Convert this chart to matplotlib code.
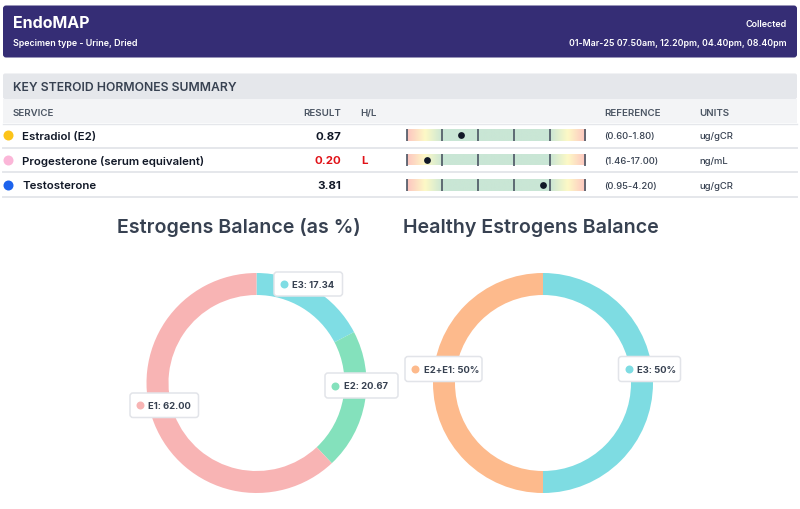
import numpy as np
import matplotlib
matplotlib.use("Agg")
import matplotlib.pyplot as plt
from matplotlib.colors import LinearSegmentedColormap
from matplotlib.patches import FancyBboxPatch, Rectangle

plt.rcParams["font.family"] = ["Inter", "DejaVu Sans"]

# ===================== DATA =====================
SERVICES = ["Estradiol (E2)", "Progesterone (serum equivalent)", "Testosterone"]
RESULTS = ["0.87", "0.20", "3.81"]
FLAGS = ["", "L", ""]
REFERENCES = ["(0.60-1.80)", "(1.46-17.00)", "(0.95-4.20)"]
UNITS = ["ug/gCR", "ng/mL", "ug/gCR"]
SERVICE_COLORS = ["#fcc419", "#fbb6d8", "#1d63ed"]
# dot position along the gauge, in gauge segments (0-5)
GAUGE_POS = [1.53, 0.56, 3.82]
GAUGE_TICKS = [0, 1, 2, 3, 4, 5]

BALANCE_LABELS = ["E3", "E2", "E1"]
BALANCE_VALUES = [17.34, 20.67, 62.00]
BALANCE_COLORS = ["#7fdde4", "#84e1bc", "#f8b4b4"]

HEALTHY_LABELS = ["E3", "E2+E1"]
HEALTHY_VALUES = [50, 50]
HEALTHY_COLORS = ["#7edce2", "#fdba8c"]

W, H = 800, 510
DARK = "#111827"
GREY = "#374151"
RED = "#e11218"


def px(size):
    return size * 0.72


def sub_axes(fig, x0, y0, x1, y1, zorder=1):
    return fig.add_axes([x0 / W, 1 - y1 / H, (x1 - x0) / W, (y1 - y0) / H], zorder=zorder)


def rounded(ax, x0, y0, x1, y1, color, edge="none", lw=0, rad=3, zorder=1):
    ax.add_patch(FancyBboxPatch((x0 + rad, y0 + rad), x1 - x0 - 2 * rad, y1 - y0 - 2 * rad,
                                boxstyle=f"round,pad={rad},rounding_size={rad}",
                                fc=color, ec=edge, lw=lw, zorder=zorder))


def draw_gauge(fig, y, pos):
    ax = sub_axes(fig, 406, y - 6, 586, y + 6, zorder=1)
    cmap = LinearSegmentedColormap.from_list("range", [
        (0.0, "#fdc5c0"), (0.10, "#fdf9c6"), (0.20, "#c9e6d5"),
        (0.80, "#c9e6d5"), (0.90, "#fdf9c6"), (1.0, "#fdc5c0")])
    ax.imshow(np.linspace(0, 1, 256)[None, :], cmap=cmap, aspect="auto",
              extent=[0, 5, 0, 1], interpolation="bilinear")
    ax.vlines(GAUGE_TICKS, 0, 1, color="#4b5563", lw=1.2)
    ax.scatter([pos], [0.5], s=24, color=DARK, zorder=3, clip_on=False, linewidths=0)
    ax.set_xlim(-0.02, 5.02)
    ax.set_ylim(0, 1)
    ax.axis("off")


def draw_donut(fig, cx, values, colors):
    cy, radius = 384, 110
    ax = sub_axes(fig, cx - radius, cy - radius, cx + radius, cy + radius, zorder=1)
    ax.pie(values, colors=colors, startangle=90, counterclock=False, radius=1,
           wedgeprops={"width": 0.2, "edgecolor": "none"})
    ax.set_xlim(-1, 1)
    ax.set_ylim(-1, 1)
    ax.axis("off")


def tooltip(ax, x0, y0, x1, y1, color, text):
    rounded(ax, x0, y0, x1, y1, "white", edge="#e2e4e9", lw=1.1, rad=3, zorder=5)
    ym = (y0 + y1) / 2
    ax.scatter([x0 + 10], [ym], s=33, color=color, zorder=6, linewidths=0)
    ax.text(x0 + 18.5, ym + 0.5, text, fontsize=px(9.4), color=GREY, fontweight=700,
            va="center", ha="left", zorder=6)


def main():
    fig = plt.figure(figsize=(W / 100, H / 100), dpi=100, facecolor="white")

    bg = sub_axes(fig, 0, 0, W, H, zorder=0)
    bg.set_xlim(0, W)
    bg.set_ylim(H, 0)
    bg.axis("off")

    top = sub_axes(fig, 0, 0, W, H, zorder=2)
    top.set_xlim(0, W)
    top.set_ylim(H, 0)
    top.axis("off")
    top.patch.set_alpha(0)

    # header banner
    rounded(bg, 3, 6.5, 797, 58.5, "#352d75", rad=3)
    bg.text(13, 23.5, "EndoMAP", color="white", fontsize=px(16), fontweight=700, va="center")
    bg.text(13, 43, "Specimen type - Urine, Dried", color="white", fontsize=px(8.9),
            fontweight=600, va="center")
    bg.text(787, 24.5, "Collected", color="white", fontsize=px(9), fontweight=600,
            va="center", ha="right")
    bg.text(787, 43, "01-Mar-25 07.50am, 12.20pm, 04.40pm, 08.40pm", color="white",
            fontsize=px(8.75), fontweight=600, va="center", ha="right")

    # table heading
    rounded(bg, 3, 74.5, 797, 100, "#e5e7eb", rad=2)
    bg.text(13, 88, "KEY STEROID HORMONES SUMMARY", color=GREY, fontsize=px(12.2),
            fontweight=600, va="center")
    bg.add_patch(Rectangle((3, 100), 794, 24, fc="#f3f4f6", ec="none"))
    bg.plot([3, 797], [124.5, 124.5], color="#e5e7eb", lw=1)

    head_y = 113.5
    for x, name in [(13, "SERVICE"), (303.5, "RESULT"), (360.5, "H/L"), (604.5, "REFERENCE"), (699.5, "UNITS")]:
        bg.text(x, head_y, name, color="#4b5563", fontsize=px(9.7), fontweight=600, va="center")

    # table rows
    row_y = [136, 160.5, 185.5]
    line_y = [148.5, 173, 197.5]
    for i, y in enumerate(row_y):
        bg.plot([3, 797], [line_y[i], line_y[i]], color="#e5e7eb", lw=1.4)
        bg.scatter([8], [y], s=52, color=SERVICE_COLORS[i], linewidths=0, zorder=3)
        bg.text(22.5, y + 0.8, SERVICES[i], color=DARK, fontsize=px(11.45), fontweight=600, va="center")
        res_color = RED if FLAGS[i] else DARK
        bg.text(341.5, y + 0.8, RESULTS[i], color=res_color, fontsize=px(11.5), fontweight=700,
                va="center", ha="right")
        bg.text(361, y + 0.8, FLAGS[i], color=RED, fontsize=px(11.5), fontweight=700, va="center")
        bg.text(604.5, y + 0.8, REFERENCES[i], color=GREY, fontsize=px(9.5), fontweight=500, va="center")
        bg.text(699.5, y + 0.8, UNITS[i], color=GREY, fontsize=px(9.5), fontweight=500, va="center")
        draw_gauge(fig, y, GAUGE_POS[i])

    # donuts
    bg.text(239, 228, "Estrogens Balance (as %)", color=GREY, fontsize=px(19.6),
            fontweight=600, va="center", ha="center")
    bg.text(531, 228, "Healthy Estrogens Balance", color=GREY, fontsize=px(19.6),
            fontweight=600, va="center", ha="center")
    draw_donut(fig, 256.5, BALANCE_VALUES, BALANCE_COLORS)
    draw_donut(fig, 543, HEALTHY_VALUES, HEALTHY_COLORS)

    boxes = [(274, 273, 342.5, 297), (325, 374, 398, 399), (130, 394, 198.5, 418.5)]
    for box, lab, val, col in zip(boxes, BALANCE_LABELS, BALANCE_VALUES, BALANCE_COLORS):
        tooltip(top, *box, col, f"{lab}: {val:.2f}")
    boxes = [(618.5, 357.5, 680.5, 382.5), (405, 357.5, 482, 382.5)]
    for box, lab, val, col in zip(boxes, HEALTHY_LABELS, HEALTHY_VALUES, HEALTHY_COLORS):
        tooltip(top, *box, col, f"{lab}: {val}%")

    fig.savefig("out.png", dpi=100, facecolor="white")
    plt.close(fig)


if __name__ == "__main__":
    main()
